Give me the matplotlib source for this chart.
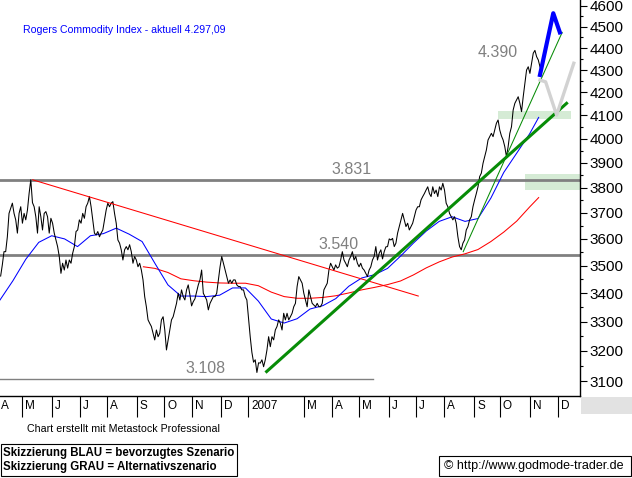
import numpy as np
import pandas as pd
import matplotlib
matplotlib.use('Agg')
import matplotlib.pyplot as plt
from matplotlib.patches import Rectangle
from matplotlib.ticker import FixedLocator, NullFormatter

# Rogers Commodity Index, daily close (Metastock style chart)
# x axis = trading day number, day 0 = 2006-04-06

start_day = '2006-04-06'
n_days = 449

price_first_day = 0.5
price_last_day = 419.3
price = [
    3462, 3503, 3552, 3552, 3608, 3698, 3718, 3738, 3698, 3673, 3622, 3698, 3724, 3660, 3698, 3673, 3711,
    3777, 3831, 3740,
    3724, 3685, 3622, 3724, 3685, 3634, 3698, 3705, 3685, 3622, 3679, 3660, 3622, 3596, 3571, 3534, 3472,
    3509, 3484, 3521, 3491, 3521, 3509, 3546, 3571, 3628, 3634, 3673, 3660, 3698, 3679, 3724, 3738, 3764,
    3724, 3673, 3622, 3615, 3628, 3608, 3622, 3634, 3673, 3711, 3738, 3724, 3738, 3744, 3698, 3660, 3596,
    3584, 3559, 3521, 3559, 3571, 3559, 3578, 3552, 3509, 3534, 3521, 3496, 3509, 3484, 3448, 3388, 3352,
    3306, 3294, 3283, 3260, 3237, 3271, 3248, 3260, 3306, 3317, 3271, 3203, 3237, 3271, 3306, 3317, 3341,
    3364, 3400, 3376, 3412, 3388, 3376, 3412, 3430, 3394, 3355, 3370, 3380, 3405, 3430,
    3448, 3484, 3400, 3388, 3376, 3341, 3364, 3376, 3388, 3388, 3400, 3448, 3496, 3534, 3509, 3484, 3460,
    3436, 3448, 3436, 3448, 3448, 3430, 3424, 3424, 3412, 3412, 3388,
    3376, 3310, 3248, 3195, 3162, 3170, 3128,
    3160, 3159, 3170, 3147, 3170,
    3203, 3248, 3214, 3248, 3237, 3271, 3283, 3306, 3294, 3271, 3329, 3306, 3329, 3306, 3317, 3329, 3352,
    3364, 3424, 3460, 3448, 3436, 3400, 3376, 3352, 3412, 3388, 3364, 3358, 3352, 3364, 3352, 3352, 3364,
    3412, 3424, 3436, 3484, 3509, 3496, 3484, 3503, 3491, 3496, 3521, 3552, 3521, 3509, 3496, 3521, 3534,
    3552, 3521, 3534, 3509, 3496, 3509, 3491, 3484, 3472, 3460, 3484, 3496, 3521, 3534, 3571, 3521, 3546,
    3559, 3525, 3552, 3570, 3571, 3600,
    3596, 3602, 3571, 3584, 3622, 3647, 3673, 3698, 3673, 3647, 3660, 3634, 3647, 3660, 3685, 3711, 3724,
    3724, 3751, 3764, 3776, 3790, 3803, 3776, 3764, 3803, 3776, 3790, 3764, 3803, 3790, 3817, 3790, 3738,
    3724, 3698, 3685, 3673, 3685, 3660, 3608, 3571, 3559, 3584, 3596, 3634, 3647, 3673, 3685, 3724, 3751,
    3776, 3803, 3844, 3858, 3898, 3925, 3953, 3995, 4009, 4023, 4009, 4037, 4066, 4080, 4037, 4012, 3995,
    3967, 3925, 3967, 4023, 4051, 4123, 4152, 4167, 4181, 4152, 4116, 4181, 4241, 4300, 4315, 4285, 4331,
    4377, 4390, 4361, 4346, 4315, 4297,
]

# moving averages (blue = short, red = long)
ma_blue_days = list(range(0, 420, 10)) + [417]
ma_blue = [3376, 3445, 3524, 3587, 3612, 3600, 3571, 3612, 3620, 3641,
           3618, 3590, 3508, 3430, 3390, 3390, 3388, 3393, 3419, 3419,
           3372, 3309, 3295, 3310, 3344, 3356, 3381, 3425, 3455, 3467,
           3490, 3535, 3584, 3630, 3667, 3685, 3667, 3678, 3758, 3861,
           3940, 4021, 4091]
ma_red_days = [111] + list(range(120, 420, 10)) + [417]
ma_red = [3496, 3490, 3475, 3452, 3445, 3440, 3437, 3436, 3436, 3427, 3404,
          3388, 3382, 3382, 3385, 3391, 3401, 3412, 3421, 3431, 3444,
          3466, 3492, 3514, 3532, 3544, 3560, 3590, 3626, 3668, 3723, 3760]

# drawn lines
red_trend_days, red_trend = [25.3, 323.8], [3831, 3390]
green_trend_days, green_trend = [206.4, 438.6], [3131, 4152]
green_thin_days, green_thin = [358.6, 435.2], [3552, 4474]
blue_scn_days, blue_scn = [418, 428.3, 433.4], [4278, 4565, 4474]
gray_scn_days, gray_scn = [418, 422.4, 430.9, 444.2], [4255, 4247, 4101, 4331]
zones = [(385.7, 441.7, 4085, 4119), (406.3, 449, 3790, 3853)]

levels = [3831, 3540, 3108]
level_labels = ['3.831', '3.540', '3.108']
level_label_days = [256.7, 246.4, 143.2]
level_3108_end = 288.5
high_label, high_day, high_pos = '4.390', 370, 4360

yticks = list(range(3100, 4700, 100))
month_letters = 'JFMAMJJASOND'

W, H = 632, 478
fig = plt.figure(figsize=(W / 100, H / 100), dpi=100)
plt.rcParams['font.family'] = ['Liberation Sans', 'DejaVu Sans']
ax = fig.add_axes([0, 82 / H, 580 / W, 396 / H])

ax.set_yscale('log')
ax.set_ylim(3051.5, 4629)
ax.set_xlim(0, n_days)

for x0, x1, y0, y1 in zones:
    ax.add_patch(Rectangle((x0, y0), x1 - x0, y1 - y0, facecolor='#d5ebd5', edgecolor='none', zorder=1))

ax.axhline(levels[0], color='#808080', lw=2, zorder=2)
ax.axhline(levels[1], color='#808080', lw=2, zorder=2)
ax.plot([0, level_3108_end], [levels[2]] * 2, color='#808080', lw=1, zorder=2)

ax.plot(ma_red_days, ma_red, color='#ff0000', lw=0.75, zorder=3)
ax.plot(ma_blue_days, ma_blue, color='#0000ff', lw=0.75, zorder=3)
days = np.linspace(price_first_day, price_last_day, len(price))
ax.plot(days, price, color='black', lw=0.75, zorder=4)

ax.plot(red_trend_days, red_trend, color='#ff0000', lw=0.75, zorder=5)
ax.plot(green_trend_days, green_trend, color='#078c07', lw=2.2, zorder=5)
ax.plot(green_thin_days, green_thin, color='#078c07', lw=0.75, zorder=5)
ax.plot(blue_scn_days, blue_scn, color='#0000ff', lw=3, zorder=6)
ax.plot(gray_scn_days, gray_scn, color='#d2d2d2', lw=2.4, zorder=6)

for lab, d, lev in zip(level_labels, level_label_days, levels):
    ax.annotate(lab, xy=(d, lev), xytext=(0, 6), textcoords='offset pixels',
                ha='left', va='baseline', color='#808080', fontsize=11.5)
ax.text(high_day, high_pos, high_label, ha='left', va='baseline', color='#808080', fontsize=11.5)

# axes look
for s in ['top', 'left']:
    ax.spines[s].set_visible(False)
ax.spines['right'].set_linewidth(1)
ax.spines['bottom'].set_linewidth(1)
ax.yaxis.tick_right()
ax.yaxis.set_major_locator(FixedLocator(yticks))
ax.yaxis.set_minor_locator(FixedLocator([t + 50 for t in yticks[:-1]]))
ax.set_yticklabels([str(t) for t in yticks])
ax.yaxis.set_minor_formatter(NullFormatter())
ax.tick_params(axis='y', which='major', length=5, width=0.8, pad=2, labelsize=11)
ax.tick_params(axis='y', which='minor', length=2.5, width=0.8)

bdays = pd.bdate_range(start_day, periods=n_days)
seps, labs = [], []
for i in range(1, n_days):
    if bdays[i].month != bdays[i - 1].month:
        m = bdays[i].month
        if m == 2:
            continue
        seps.append(i)
        labs.append(str(bdays[i].year) if m == 1 else month_letters[m - 1])
ax.set_xticks(seps)
ax.set_xticklabels([])
ax.tick_params(axis='x', length=15, width=0.8, direction='out')
ax.annotate(month_letters[bdays[0].month - 1], xy=(0, 0), xycoords=ax.get_xaxis_transform(),
            xytext=(1, -10), textcoords='offset pixels', ha='left', va='center', fontsize=8.5)
for s, lab in zip(seps, labs):
    ax.annotate(lab, xy=(s, 0), xycoords=ax.get_xaxis_transform(),
                xytext=(3, -10), textcoords='offset pixels', ha='left', va='center', fontsize=8.5)

# page decorations
fig.patches.append(Rectangle((581 / W, 1 - 414 / H), 51 / W, 17 / H, transform=fig.transFigure,
                             facecolor='#e2e2e2', edgecolor='none'))
fig.text(22.7 / W, 1 - 30 / H, 'Rogers Commodity Index - aktuell 4.297,09', color='#0000ff',
         fontsize=7.6, va='center', ha='left')
fig.text(27 / W, 1 - 429 / H, 'Chart erstellt mit Metastock Professional', fontsize=7.7,
         va='center', ha='left')
fig.patches.append(Rectangle((1 / W, 1 - 476 / H), 236 / W, 32 / H, transform=fig.transFigure,
                             facecolor='none', edgecolor='black', lw=0.8))
fig.text(3 / W, 1 - 453 / H, 'Skizzierung BLAU = bevorzugtes Szenario', fontsize=8.3,
         fontweight='bold', va='center', ha='left')
fig.text(3 / W, 1 - 467 / H, 'Skizzierung GRAU = Alternativszenario', fontsize=8.3,
         fontweight='bold', va='center', ha='left')
fig.patches.append(Rectangle((439 / W, 1 - 476 / H), 192 / W, 20 / H, transform=fig.transFigure,
                             facecolor='none', edgecolor='black', lw=0.8))
fig.text(444 / W, 1 - 466 / H, '\u00a9 http://www.godmode-trader.de', fontsize=9,
         va='center', ha='left')

fig.savefig('out.png', dpi=100)
